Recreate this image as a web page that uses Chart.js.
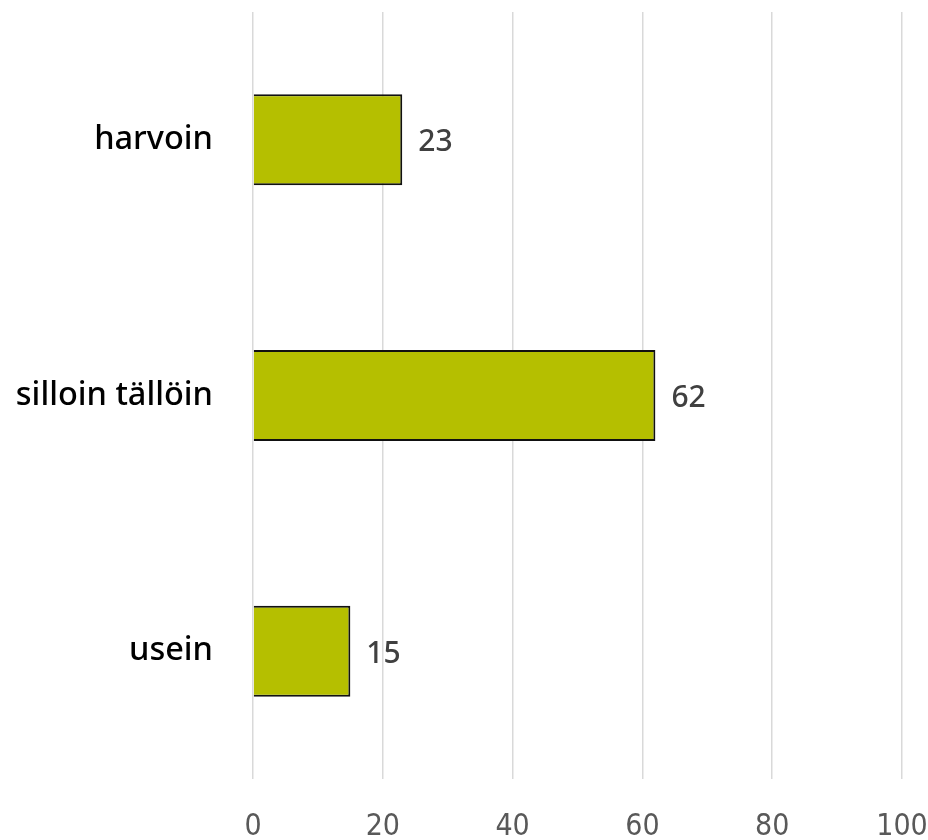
<!DOCTYPE html>
<html>
<head>
<meta charset="utf-8">
<script src="https://cdn.jsdelivr.net/npm/chart.js@4/dist/chart.umd.min.js"></script>
<style>
  html, body { margin: 0; padding: 0; background: #fff; }
  #wrap { width: 928px; height: 840px; }
</style>
</head>
<body>
<div id="wrap"><canvas id="mychart"></canvas></div>
<script>
var categories = ["harvoin", "silloin tällöin", "usein"];
var values = [23, 62, 15];
var xTicks = [0, 20, 40, 60, 80, 100];

// value labels to the right of each bar
var valueLabels = {
    id: "valueLabels",
    afterDatasetsDraw: function(chart) {
        var ctx = chart.ctx;
        var meta = chart.getDatasetMeta(0);
        ctx.save();
        ctx.font = "500 30px 'Noto Sans'";
        ctx.fillStyle = "#404040";
        ctx.textAlign = "left";
        ctx.textBaseline = "middle";
        meta.data.forEach(function(bar, i) {
            ctx.fillText(values[i], bar.x + 16, bar.y + 3);
        });
        ctx.restore();
    }
};

function noPad(scale) {
    scale.paddingLeft = 0;
    scale.paddingRight = 0;
    scale.paddingTop = 0;
    scale.paddingBottom = 0;
}

var mychart = document.getElementById("mychart").getContext("2d");
var chart = new Chart(mychart, {
    type: "bar",
    data: {
        labels: categories,
        datasets: [{
            data: values,
            backgroundColor: "#b5bf00",
            borderColor: "#111111",
            borderWidth: 2,
            borderSkipped: "start",
            barPercentage: 0.356,
            categoryPercentage: 1
        }]
    },
    options: {
        indexAxis: "y",
        responsive: true,
        maintainAspectRatio: false,
        animation: false,
        layout: { padding: { top: 12, right: 26, left: 0, bottom: 0 } },
        plugins: { legend: { display: false }, tooltip: { enabled: false } },
        scales: {
            x: {
                min: 0,
                max: 100,
                afterBuildTicks: function(scale) {
                    scale.ticks = xTicks.map(function(v) { return { value: v }; });
                },
                grid: { color: "#d9d9d9", lineWidth: 1.5, drawTicks: false },
                border: { display: false },
                ticks: {
                    padding: 30,
                    color: "#595959",
                    font: { family: "'Liberation Sans Narrow', 'DejaVu Sans Condensed', sans-serif", size: 30 }
                },
                afterFit: function(scale) { scale.height = 61; noPad(scale); }
            },
            y: {
                grid: { display: false, drawTicks: false },
                border: { display: false },
                ticks: {
                    padding: 40,
                    color: "#000000",
                    font: { family: "'Noto Sans'", size: 32.5, weight: "500" }
                },
                afterFit: function(scale) { scale.width = 253; noPad(scale); }
            }
        }
    },
    plugins: [valueLabels]
});
</script>
</body>
</html>
